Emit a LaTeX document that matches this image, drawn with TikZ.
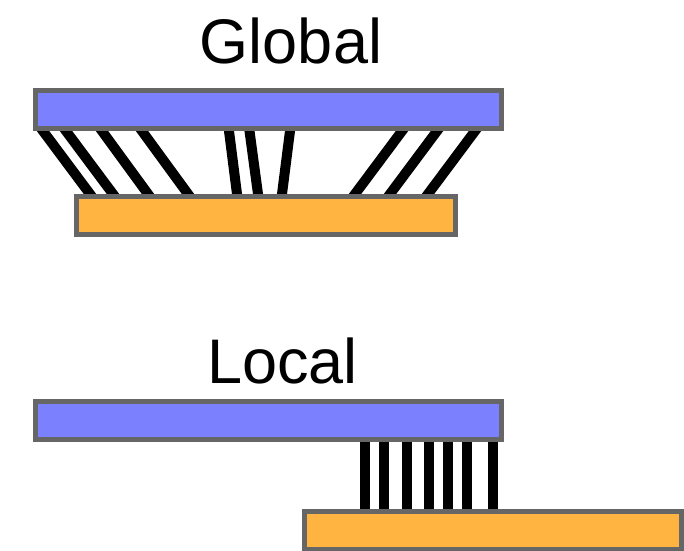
\documentclass[tikz,border=0pt]{standalone}
\usepackage{fontspec}
\setmainfont{Liberation Sans}
\usetikzlibrary{backgrounds}

\definecolor{barblue}{HTML}{7B80FF}
\definecolor{barorange}{HTML}{FFB340}
\definecolor{bargray}{HTML}{666666}

\tikzset{
  bar/.style={rectangle, draw=bargray, line width=5pt, inner sep=0pt, minimum height=38pt},
  wire/.style={line width=10pt, line cap=butt, shorten <=-5pt, shorten >=-5pt},
  title/.style={anchor=base, inner sep=0pt, font=\fontsize{63}{76}\selectfont}
}

\begin{document}
\begin{tikzpicture}[x=1pt, y=-1pt]

  %% ════ 标题 ════
  \node[title] (globaltitle) at (291,63) {Global};
  \node[title] (localtitle) at (282.5,383) {Local};

  %% ════ 条块 ════
  \node[bar, fill=barblue, minimum width=466pt] (gtop) at (268.5,109.5) {};
  \node[bar, fill=barorange, minimum width=379pt] (gbot) at (266,215.5) {};
  \node[bar, fill=barblue, minimum width=466pt] (ltop) at (268.5,420.5) {};
  \node[bar, fill=barorange, minimum width=377pt] (lbot) at (493,530.5) {};

  %% ════ 连线（放在背景层，两端压在条块下）════
  \begin{pgfonlayer}{background}
    % 上图：斜线，(上端 x)/(下端 x)
    \foreach \a/\b in {43/90, 66/113, 102/148, 142/188, 229/237, 249.5/258, 290/282, 402/355, 437/390, 475/428}
      \draw[wire] (\a,0 |- gtop.south) -- (\b,0 |- gbot.north);
    % 下图：竖线
    \foreach \a in {365,384,407,429,448,467,493}
      \draw[wire] (\a,0 |- ltop.south) -- (\a,0 |- lbot.north);
  \end{pgfonlayer}

  % 钉死画布
  \pgfresetboundingbox
  \path[use as bounding box] (0,0) rectangle (684,550);
\end{tikzpicture}
\end{document}
